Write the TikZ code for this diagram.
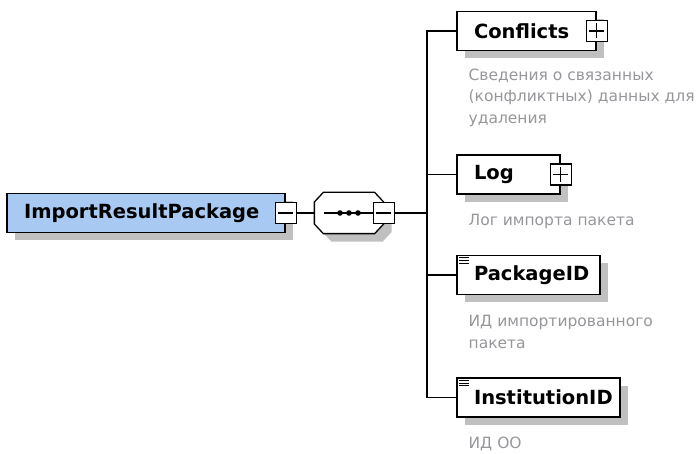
\documentclass[tikz,border=0pt]{standalone}
\usepackage{fontspec}
\setmainfont{DejaVu Sans}
\usetikzlibrary{shadows, calc}
\definecolor{rootblue}{RGB}{168,201,241}
\definecolor{shadowgray}{RGB}{192,192,192}
\definecolor{notegray}{RGB}{150,150,155}
% three short strokes in the top left corner of a simple element
\newcommand{\fixmark}[1]{\foreach \k in {0,1,2} \draw[line width=0.9pt] ($(#1.north west)+(3,3+2.7*\k)$) -- ++(10,0);}
% octagon round a node, shifted by #3
\newcommand{\octo}[3]{($(#1.west)+(0,#2-20)+#3$) -- ($(#1.north west)+(#2,0)+#3$) -- ($(#1.north east)+(-#2,0)+#3$) -- ($(#1.east)+(0,#2-20)+#3$)
  -- ($(#1.east)+(0,20-#2)+#3$) -- ($(#1.south east)+(-#2,0)+#3$) -- ($(#1.south west)+(#2,0)+#3$) -- ($(#1.west)+(0,20-#2)+#3$) -- cycle}

\begin{document}
\begin{tikzpicture}[x=1pt, y=-1pt, line width=1.3pt,
    box/.style={draw, fill=white, inner xsep=17pt, inner ysep=0pt, minimum height=39pt, align=left,
      font=\bfseries\fontsize{19.5}{22}\selectfont,
      drop shadow={shadow xshift=8pt, shadow yshift=-8pt, fill=shadowgray, opacity=1}},
    tog/.style={draw, fill=white, minimum size=21pt, inner sep=0pt},
    minus/.style={tog, path picture={\draw ([xshift=3pt]path picture bounding box.west) -- ([xshift=-3pt]path picture bounding box.east);}},
    plus/.style={tog, path picture={\draw ([xshift=3pt]path picture bounding box.west) -- ([xshift=-3pt]path picture bounding box.east);
      \draw ([yshift=-3pt]path picture bounding box.north) -- ([yshift=3pt]path picture bounding box.south);}},
    seqbox/.style={minimum width=68pt, minimum height=40pt, inner sep=0pt},
    note/.style={anchor=north west, inner sep=0pt, align=left, text=notegray, font=\fontsize{15.5}{21.5}\selectfont}]
  \useasboundingbox (0,0) rectangle (699,454);

  % root element and sequence
  \node[box, fill=rootblue, text width=244pt] (root) at (146,213) {ImportResultPackage};
  \node[seqbox] (seq) at (349,213) {};
  \fill[shadowgray] \octo{seq}{9}{(8,8)};
  \draw[fill=white] \octo{seq}{9}{(0,0)};
  \draw ([xshift=10pt]seq.west) -- ([xshift=-10pt]seq.east);
  \foreach \d in {-9,0,9} \fill ($(seq.center)+(\d,0)$) circle (2.8);
  \node[minus] (rootsw) at (root.east) {};
  \node[minus] (seqsw) at (seq.east) {};
  \coordinate (bus) at (427,213);
  \draw (rootsw) -- (seq);
  \draw (seqsw) -- (bus);

  % children
  \node[box, text width=105pt] (conf) at (526.5,31) {Conflicts};
  \node[plus] (confsw) at (conf.east) {};
  \node[box, text width=69pt] (log) at (508.5,174.5) {Log};
  \node[plus] (logsw) at (log.east) {};
  \node[box, text width=109pt] (pkg) at (528.5,275) {PackageID};
  \fixmark{pkg}
  \node[box, text width=129pt] (inst) at (538.5,397.5) {InstitutionID};
  \fixmark{inst}
  \foreach \n in {conf,log,pkg,inst} \draw (bus) |- (\n.west);

  % annotations
  \node[note] (confnote) at (468,68) {Сведения о связанных\\(конфликтных) данных для\\удаления};
  \node[note] (lognote) at (468,214) {Лог импорта пакета};
  \node[note] (pkgnote) at (468,315) {ИД импортированного\\пакета};
  \node[note] (instnote) at (468,436) {ИД ОО};
\end{tikzpicture}
\end{document}
